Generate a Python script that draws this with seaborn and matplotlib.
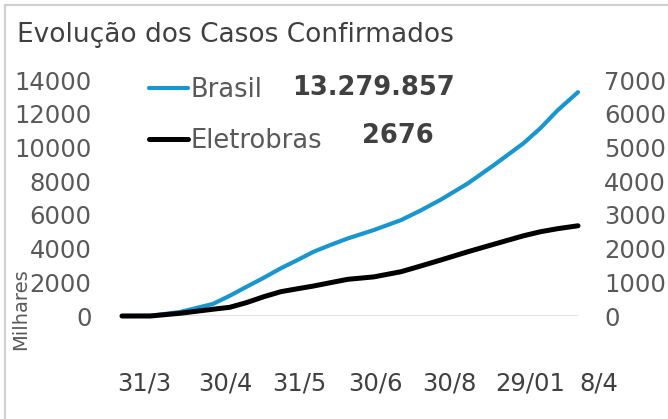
import matplotlib
matplotlib.use("Agg")
import matplotlib.pyplot as plt
import matplotlib.patches as mpatches
import pandas as pd
import seaborn as sns

# dias desde o início da série (leitura aproximada do gráfico)
dias = [0, 25, 51, 80, 95, 110, 125, 140, 155, 169, 184, 199, 222,
        246, 263, 281, 305, 328, 354, 369, 384, 402]
# casos confirmados no Brasil (milhares)
brasil = [0, 10, 235, 712, 1200, 1740, 2270, 2830, 3330, 3815, 4220, 4600, 5100,
          5690, 6250, 6900, 7870, 8960, 10250, 11150, 12200, 13280]
# casos confirmados na Eletrobras
eletrobras = [0, 0, 80, 200, 258, 400, 572, 721, 810, 890, 990, 1088, 1160,
              1314, 1480, 1660, 1907, 2130, 2380, 2500, 2590, 2676]

tick_labels = ["31/3", "30/4", "31/5", "30/6", "30/8", "29/01", "8/4"]
total_brasil = "13.279.857"
total_eletrobras = "2676"

BLUE = "#1a96cf"
GRAY_TXT = "#595959"
DARK_TXT = "#404040"

df = pd.DataFrame({"dia": dias, "brasil": brasil, "eletrobras": eletrobras})

sns.set_theme(style="white")
plt.rcParams["font.family"] = ["DejaVu Sans"]

fig = plt.figure(figsize=(6.68, 4.19), dpi=100)
ax = fig.add_axes([122 / 668, 103 / 419, 478 / 668, 236 / 419])
ax2 = ax.twinx()

sns.lineplot(data=df, x="dia", y="brasil", ax=ax, color=BLUE, lw=3, clip_on=False)
sns.lineplot(data=df, x="dia", y="eletrobras", ax=ax2, color="black", lw=3.6, clip_on=False)

x_end = df["dia"].max() * 478 / 456
ax.set_xlim(0, x_end)
ax.set_ylim(0, 14000)
ax2.set_ylim(0, 7000)
ax.set_yticks(range(0, 14001, 2000))
ax2.set_yticks(range(0, 7001, 1000))
ax.set_xticks([20, 91, 156, 223, 289, 360, 420])
ax.set_xticklabels(tick_labels)

for a in (ax, ax2):
    for s in a.spines.values():
        s.set_visible(False)
    a.set_xlabel("")
    a.set_ylabel("")
    a.grid(False)
ax.axhline(0, xmin=0, xmax=df["dia"].max() / x_end, color="#d9d9d9", lw=1.2, zorder=0)

ax.tick_params(axis="y", length=0, pad=22, labelsize=17.5, labelcolor=GRAY_TXT)
ax.tick_params(axis="x", length=0, pad=40, labelsize=17.5, labelcolor=DARK_TXT)
ax2.tick_params(axis="y", length=0, pad=3, labelsize=17.5, labelcolor=GRAY_TXT)

# legenda
h1 = plt.Line2D([], [], color=BLUE, lw=3)
h2 = plt.Line2D([], [], color="black", lw=3.6)
leg = ax2.legend([h1, h2], ["Brasil", "Eletrobras"], loc="upper left",
                 bbox_to_anchor=(0.035, 1.055), frameon=False, fontsize=18.5,
                 handlelength=1.5, handletextpad=0.1, labelspacing=0.95,
                 borderaxespad=0)
for t in leg.get_texts():
    t.set_color(GRAY_TXT)

fig.text(292 / 668, 1 - 88 / 419, total_brasil, fontsize=18.5, fontweight="bold",
         color=DARK_TXT, va="center", ha="left")
fig.text(362 / 668, 1 - 136 / 419, total_eletrobras, fontsize=18.5, fontweight="bold",
         color=DARK_TXT, va="center", ha="left")

fig.text(17 / 668, 1 - 35 / 419, "Evolução dos Casos Confirmados", fontsize=19,
         color=DARK_TXT, va="center", ha="left")
fig.text(21 / 668, 1 - 309 / 419, "Milhares", fontsize=14, rotation=90,
         color=GRAY_TXT, va="center", ha="center")

fig.patches.append(mpatches.Rectangle((5 / 668, -0.1), 1.2, 1.1 - 5 / 419,
                                      transform=fig.transFigure, fill=False,
                                      edgecolor="#d0d0d0", lw=1.5))

fig.savefig("out.png", dpi=100)
